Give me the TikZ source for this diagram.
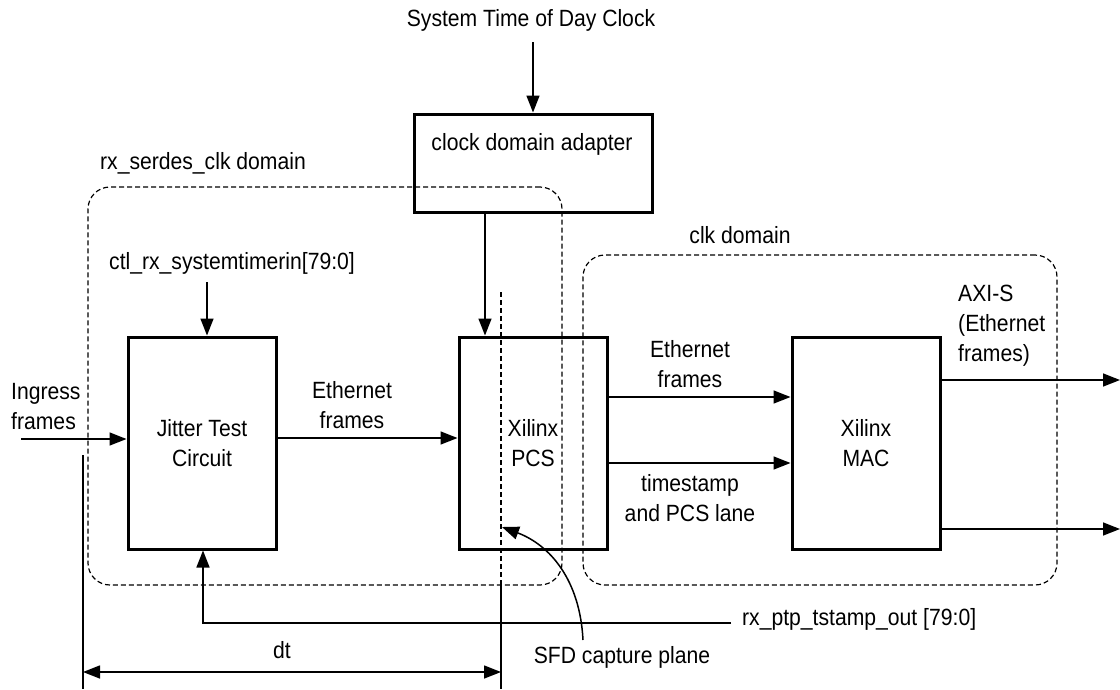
\documentclass[tikz,border=0pt]{standalone}
\usepackage{fontspec}
\setmainfont{Liberation Sans}[FakeStretch=0.9]
\usetikzlibrary{arrows.meta,fit}
\begin{document}
\begin{tikzpicture}[x=1pt,y=-1pt,
  font=\fontsize{23.5}{30}\selectfont,
  box/.style={draw,line width=3pt,inner sep=0pt},
  dom/.style={draw,line width=1.2pt,dash pattern=on 5pt off 3pt,rounded corners=22pt,inner sep=0pt},
  dline/.style={line width=1.2pt,dash pattern=on 5pt off 3pt},
  tip/.style={},
  arr/.style={line width=1.5pt,-{Triangle[length=17pt,width=13pt]}},
  darr/.style={line width=1.5pt,{Triangle[length=17pt,width=13pt]}-{Triangle[length=17pt,width=13pt]}},
  ln/.style={line width=1.3pt},
  txt/.style={inner sep=0pt,align=center}]
\useasboundingbox (0,0) rectangle (1120,689);

% clock domains
\node[dom,fit={(88,187)(562,585)}] (rxd) {};
\node[dom,fit={(583,255)(1057,585)}] (clkd) {};

% boxes
\node[box,fit={(414,114)(652,212)}] (ad) {};
\node[box,fit={(128,337)(276,549)}] (jit) {};
\node[box,fit={(459,337)(607,549)}] (pcs) {};
\node[box,fit={(792,337)(940,549)}] (mac) {};

% texts
\node[txt] (st) at (531,20) {System Time of Day Clock};
\node[txt] (adt) at (532,144) {clock domain adapter};
\node[txt] (rxl) at (203,163) {rx\_serdes\_clk domain};
\node[txt] (clkl) at (740,235) {clk domain};
\node[txt] (ctl) at (232,263) {ctl\_rx\_systemtimerin[79:0]};
\node[txt] (jitt) at (202,443) {Jitter Test\\Circuit};
\node[txt] (pcst) at (533,443) {Xilinx\\PCS};
\node[txt] (mact) at (866,443) {Xilinx\\MAC};
\node[txt,align=left,anchor=west] (ing) at (11,407) {Ingress\\frames};
\node[txt] (eth1) at (352,405) {Ethernet\\frames};
\node[txt] (eth2) at (690,364) {Ethernet\\frames};
\node[txt] (tsl) at (690,498) {timestamp\\and PCS lane};
\node[txt,align=left,anchor=west] (axi) at (958,326) {AXI-S\\(Ethernet\\frames)};
\node[txt,anchor=west] (rxp) at (742,619) {rx\_ptp\_tstamp\_out [79:0]};
\node[txt] (dtl) at (282,650) {dt};
\node[txt] (sfd) at (622,657) {SFD capture plane};

% helper coordinates
\coordinate (stA) at (533,42);
\coordinate (ctlA) at (207,282);
\coordinate (adX) at (485,0);
\coordinate (ingA) at (21,439);
\coordinate (y438) at (0,438);
\coordinate (y397) at (0,397);
\coordinate (y463) at (0,463);
\coordinate (o1) at (1120,380);
\coordinate (o2) at (1120,529);
\coordinate (fbE) at (731,623);
\coordinate (fbX) at (203,0);
\coordinate (sfdT) at (501,292);
\coordinate (sfdM) at (501,585);
\coordinate (sfdB) at (501,689);
\coordinate (lT) at (83,455);
\coordinate (lB) at (83,689);
\coordinate (dtL) at (83,672);
\coordinate (dtR) at (501,672);
\coordinate (sfdS) at (583,640);

% connectors
\draw[arr] (stA) -- (stA |- ad.north);
\draw[arr] (ctlA) -- (ctlA |- jit.north);
\draw[arr] (ad.south -| adX) -- (pcs.north -| adX);
\draw[arr] (ingA) -- (ingA -| jit.west);
\draw[arr] (jit.east |- y438) -- (pcs.west |- y438);
\draw[arr] (pcs.east |- y397) -- (mac.west |- y397);
\draw[arr] (pcs.east |- y463) -- (mac.west |- y463);
\draw[arr] (mac.east |- o1) -- (o1);
\draw[arr] (mac.east |- o2) -- (o2);
\draw[arr] (fbE) -- (fbE -| fbX) -- (jit.south -| fbX);
\draw[dline] (sfdT) -- (sfdM);
\draw[ln] (sfdM) -- (sfdB);
\draw[ln] (lT) -- (lB);
\draw[darr] (dtL) -- (dtR);
\draw[arr] (sfdS) .. controls (580,580) and (550,545) .. (502,527);
\end{tikzpicture}
\end{document}
